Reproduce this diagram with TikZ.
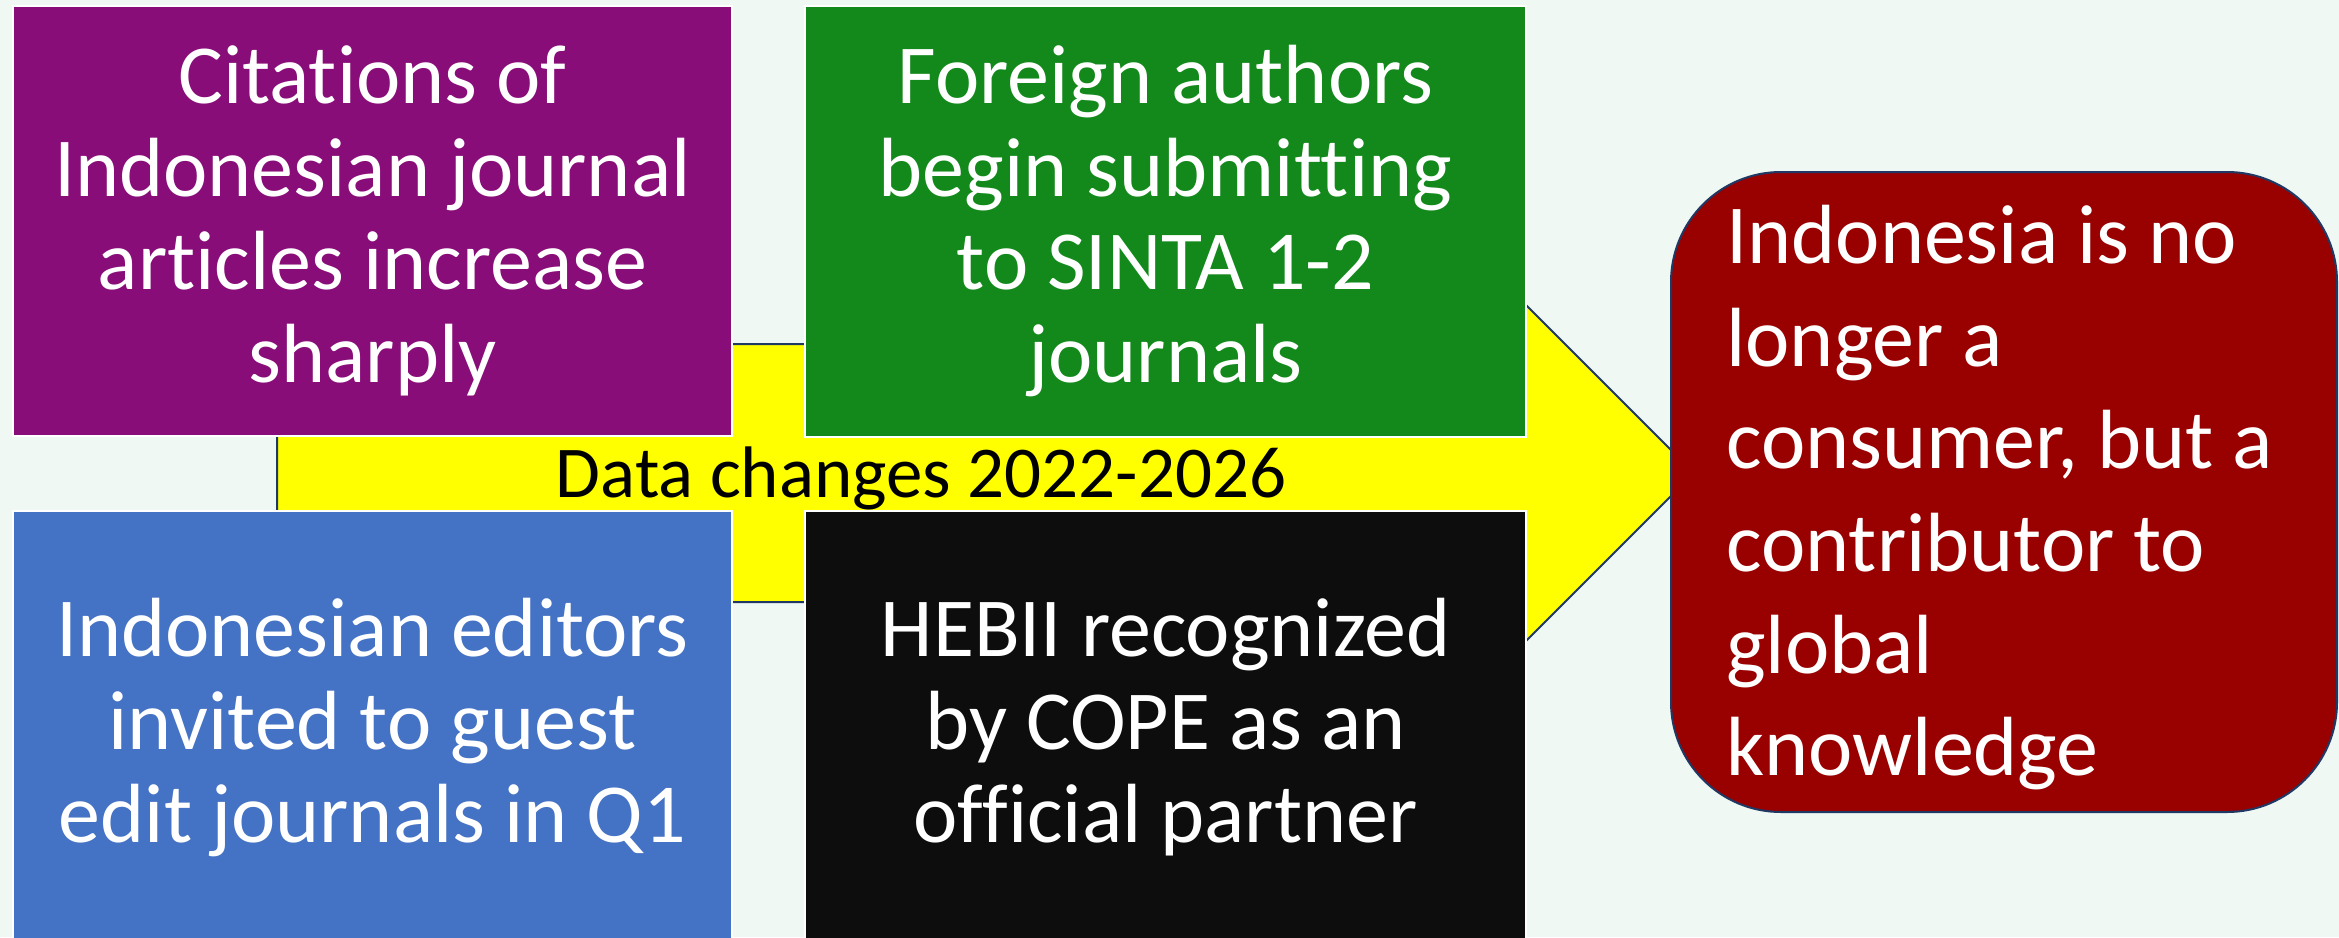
\documentclass[tikz,border=0pt]{standalone}
\usepackage{fontspec}
\setmainfont{Carlito}[Ligatures=NoCommon]
\definecolor{bgc}{HTML}{F0F8F3}
\definecolor{purplebox}{HTML}{880D78}
\definecolor{greenbox}{HTML}{13891B}
\definecolor{bluebox}{HTML}{4472C4}
\definecolor{blackbox}{HTML}{0D0D0D}
\definecolor{redbox}{HTML}{990000}
\definecolor{navy}{HTML}{203864}
\definecolor{arrowfill}{HTML}{FFFF00}
\begin{document}
\begin{tikzpicture}[x=0.5pt,y=-0.5pt,
  infobox/.style={rectangle, draw=white, line width=1pt, text=white, align=center,
    inner sep=0pt, font=\fontsize{42}{46.5}\selectfont},
  resultbox/.style={rectangle, rounded corners=55pt, draw=navy, line width=1pt, fill=redbox,
    inner sep=0pt, minimum width=333pt, minimum height=320pt},
  resulttext/.style={anchor=west, text=white, align=left, inner sep=0pt,
    font=\fontsize{42}{51.2}\selectfont},
  bandlabel/.style={anchor=base, text=black, inner sep=0pt, font=\fontsize{36.5}{40}\selectfont}
]
\fill[bgc] (0,0) rectangle (2339,937);
\useasboundingbox (0,0) rectangle (2339,937);

% big yellow arrow behind the boxes
\filldraw[fill=arrowfill, draw=navy, line width=1pt, line join=miter]
  (277,344) -- (1500,344) -- (1500,279) -- (1694,473) -- (1500,667) -- (1500,602) -- (277,602) -- cycle;
\node[bandlabel] (band) at (921,497) {Data changes 2022-2026};

% four boxes
\node[infobox, fill=purplebox, minimum width=359.5pt, minimum height=215pt] (cite) at (372.5,221)
  {Citations of\\Indonesian journal\\articles increase\\sharply};
\node[infobox, fill=greenbox, minimum width=360.5pt, minimum height=215.5pt] (foreign) at (1165.5,221.5)
  {Foreign authors\\begin submitting\\to SINTA 1-2\\journals};
\node[infobox, fill=bluebox, minimum width=359.5pt, minimum height=216.5pt] (editors) at (372.5,727.5)
  {Indonesian editors\\invited to guest\\edit journals in Q1};
\node[infobox, fill=blackbox, minimum width=360.5pt, minimum height=216.5pt] (hebii) at (1165.5,727.5)
  {HEBII recognized\\by COPE as an\\official partner};

% result box
\node[resultbox] (result) at (2004,492) {};
\node[resulttext] (resultlabel) at (1726,498)
  {Indonesia is no\\longer a\\consumer, but a\\contributor to\\global\\knowledge};
\end{tikzpicture}
\end{document}
